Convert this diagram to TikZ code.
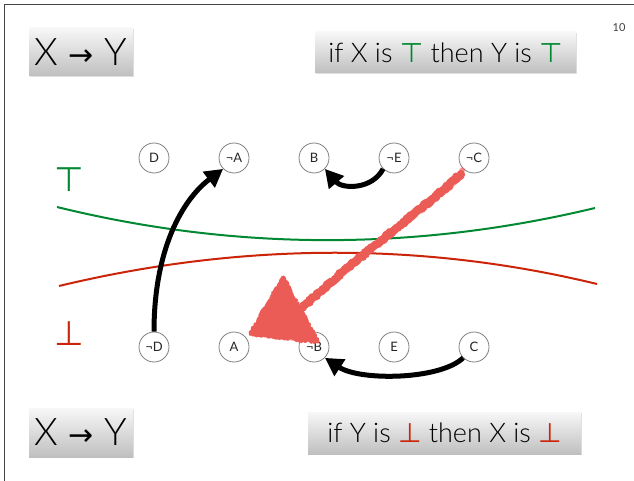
\documentclass[tikz,border=0pt]{standalone}
\usepackage{fontspec}
\setmainfont{Lato Light}
\newfontfamily\symfont{DejaVu Sans}
\newfontfamily\labelfont{Lato}
\usetikzlibrary{arrows.meta,shadows,decorations.pathmorphing}

\definecolor{topgreen}{RGB}{0,136,50}
\definecolor{botred}{RGB}{204,36,8}
\definecolor{scribred}{RGB}{236,92,86}
\definecolor{framegray}{RGB}{70,70,70}

\tikzset{
  titlebox/.style={rectangle, inner sep=0pt, top color=black!3, bottom color=black!25,
    drop shadow={opacity=0.25, shadow xshift=0.6pt, shadow yshift=-1pt}},
  bigtext/.style={font=\fontsize{38}{40}\selectfont},
  ruletext/.style={font=\fontsize{27}{30}\selectfont},
  vnode/.style={circle, draw=black!50, line width=0.8pt, minimum size=30pt, inner sep=0pt,
    font=\labelfont\fontsize{13}{13}\selectfont, text=black!85},
  bigarrow/.style={line width=5pt, -{Triangle[length=18pt,width=19pt]}},
  scribble/.style={scribred, line join=round, line cap=round, decorate,
    decoration={random steps, segment length=1.3pt, amplitude=1.3pt}},
}

\begin{document}
\begin{tikzpicture}[x=1pt,y=-1pt]
  \useasboundingbox (0,0) rectangle (634,481);
  \fill[white] (0,0) rectangle (634,481);

  % slide frame
  \draw[framegray, line width=1pt] (4.5,481) -- (4.5,5) -- (634,5);
  \node[font=\labelfont\fontsize{11}{12}\selectfont, text=black!75] (pg) at (619,28) {10};

  % headline boxes
  \node[titlebox, minimum width=104pt, minimum height=48pt] (imp1) at (81,52) {};
  \node[bigtext] at (imp1) {X {\symfont\fontsize{30}{30}\selectfont →} Y};
  \node[titlebox, minimum width=261pt, minimum height=41pt] (rule1) at (445.5,52.5) {};
  \node[ruletext] at (rule1) {if X is {\symfont\color{topgreen}⊤} then Y is {\symfont\color{topgreen}⊤}};

  \node[titlebox, minimum width=104pt, minimum height=49pt] (imp2) at (81,432.5) {};
  \node[bigtext] at (imp2) {X {\symfont\fontsize{30}{30}\selectfont →} Y};
  \node[titlebox, minimum width=273pt, minimum height=42pt] (rule2) at (444.5,433) {};
  \node[ruletext] at (rule2) {if Y is {\symfont\color{botred}⊥} then X is {\symfont\color{botred}⊥}};

  % truth value markers
  \node[font=\symfont\fontsize{34}{34}\selectfont, text=topgreen] (tt) at (69,180) {⊤};
  \node[font=\symfont\fontsize{34}{34}\selectfont, text=botred] (ff) at (69,334) {⊥};

  % boundary curves
  \draw[topgreen, line width=2pt] (57,207) .. controls (236,251) and (416,251) .. (595,208);
  \draw[botred, line width=2pt] (59,286) .. controls (242,242) and (424,242) .. (597,284);

  % literals
  \node[vnode] (D)  at (154,158) {D};
  \node[vnode] (nA) at (234,158) {¬A};
  \node[vnode] (B)  at (314,158) {B};
  \node[vnode] (nE) at (394,158) {¬E};
  \node[vnode] (nC) at (474,158) {¬C};
  \node[vnode] (nD) at (154,347) {¬D};
  \node[vnode] (A)  at (234,347) {A};
  \node[vnode] (nB) at (314,347) {¬B};
  \node[vnode] (E)  at (394,347) {E};
  \node[vnode] (C)  at (474,347) {C};

  % implications
  \draw[bigarrow] (nD.north) .. controls (154,250) and (182,200) .. (nA.south west);
  \draw[bigarrow] (nE.south west) .. controls (372,190) and (342,189) .. (B.south east);
  \draw[bigarrow] (C.south west) .. controls (440,380) and (360,381) .. (nB.south east);

  % hand-drawn contraposition arrow
  \coordinate (s0) at (461,174);
  \coordinate (hTop) at (283,277);
  \coordinate (hTip) at (250,334);
  \coordinate (hBase) at (318,342);
  \coordinate (hMid) at (301,309);
  \draw[scribble, line width=8pt]
    (s0) .. controls (420,212) and (350,262) .. (hMid);
  \draw[scribble, line width=4pt, opacity=0.7]
    (463,170) .. controls (424,208) and (354,258) .. (hMid);
  \draw[scribble, line width=4pt, opacity=0.7]
    (456,182) .. controls (416,216) and (346,266) .. (hMid);
  \filldraw[scribble, line width=3pt] (hTop) -- (hTip) -- (hBase) -- cycle;
  \draw[scribble, line width=1.5pt, opacity=0.6] (hTop) -- (hTip) -- (hBase) -- cycle;
\end{tikzpicture}
\end{document}
